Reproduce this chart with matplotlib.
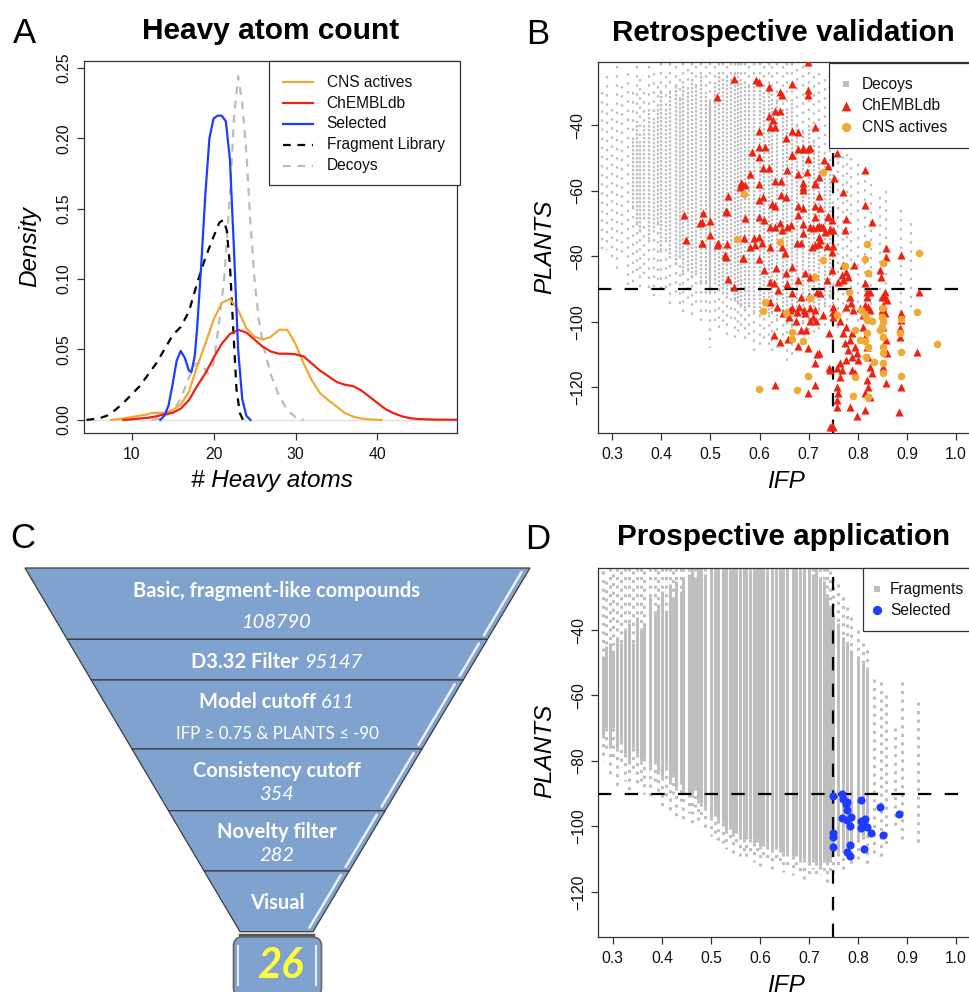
import numpy as np
import matplotlib
matplotlib.use('Agg')
import matplotlib.pyplot as plt
from matplotlib.patches import Polygon, Rectangle, FancyBboxPatch

# ------------------------------------------------------------------ data
# Panel A: density curves (x = # heavy atoms, y = density)
sel_x = [13.5, 14.0, 14.5, 15.0, 15.5, 16.0, 16.5, 17.0, 17.3, 17.7, 18.0, 18.5, 19.0, 19.5, 20.0, 20.5, 21.0, 21.5, 22.0, 22.5, 23.0, 23.5, 24.0, 24.5]
sel_y = [0.000, 0.003, 0.010, 0.025, 0.042, 0.049, 0.044, 0.035, 0.034, 0.045, 0.065, 0.110, 0.160, 0.200, 0.214, 0.216, 0.216, 0.212, 0.185, 0.120, 0.050, 0.015, 0.003, 0.000]

frag_x = [4.5, 6, 7, 8, 9, 10, 11, 12, 13, 14, 15, 16, 17, 18, 19, 20, 20.7, 21.2, 21.6, 22.0, 22.4, 22.8, 23.2, 23.6]
frag_y = [0.000, 0.001, 0.003, 0.007, 0.012, 0.018, 0.024, 0.032, 0.040, 0.050, 0.060, 0.066, 0.077, 0.097, 0.115, 0.130, 0.140, 0.142, 0.135, 0.110, 0.065, 0.022, 0.005, 0.000]

dec_x = [12.5, 14, 15, 16, 17, 17.8, 18.5, 19.3, 20, 20.7, 21.3, 22, 22.5, 23.0, 23.5, 24, 24.5, 25, 25.5, 26, 26.5, 27, 28, 29, 30, 31]
dec_y = [0.000, 0.002, 0.006, 0.015, 0.030, 0.040, 0.040, 0.033, 0.040, 0.070, 0.100, 0.160, 0.215, 0.244, 0.225, 0.190, 0.140, 0.100, 0.072, 0.055, 0.043, 0.032, 0.017, 0.007, 0.002, 0.000]

cns_x = [7.5, 9, 10, 11, 12, 12.5, 13, 14, 15, 16, 17, 18, 19, 20, 21, 22, 23, 24, 25, 26, 27, 28, 29, 30, 31, 32, 33, 34, 35, 36, 37, 38, 39, 40.5]
cns_y = [0.000, 0.001, 0.002, 0.003, 0.004, 0.005, 0.005, 0.005, 0.007, 0.011, 0.020, 0.038, 0.054, 0.071, 0.083, 0.086, 0.078, 0.065, 0.059, 0.057, 0.059, 0.064, 0.064, 0.054, 0.040, 0.028, 0.019, 0.014, 0.0095, 0.005, 0.0024, 0.001, 0.0004, 0.000]

chembl_x = [9, 10, 11, 12, 13, 14, 15, 16, 17, 18, 19, 20, 21, 22, 23, 24, 25, 26, 27, 28, 29, 30, 31, 32, 33, 34, 35, 36, 37, 38, 39, 40, 41, 42, 43, 44, 45, 47, 49.7]
chembl_y = [0.000, 0.0004, 0.001, 0.0015, 0.0025, 0.004, 0.005, 0.008, 0.014, 0.024, 0.033, 0.044, 0.054, 0.061, 0.064, 0.062, 0.057, 0.052, 0.0485, 0.047, 0.047, 0.0466, 0.045, 0.040, 0.035, 0.031, 0.027, 0.025, 0.024, 0.021, 0.0166, 0.012, 0.0076, 0.0047, 0.0025, 0.0012, 0.0006, 0.0002, 0.0001]

density_series = ["CNS actives", "ChEMBLdb", "Selected", "Fragment Library", "Decoys"]

# Panel B: decoy columns (IFP value, sparse top, dense top, dense bottom, sparse bottom)
b_col_ifp = [0.280, 0.290, 0.300, 0.310, 0.320, 0.333, 0.343, 0.350, 0.357, 0.364, 0.375, 0.385, 0.393, 0.400, 0.409, 0.417, 0.429, 0.438, 0.444, 0.455, 0.462, 0.471, 0.480, 0.490, 0.500, 0.509, 0.517, 0.526, 0.533, 0.542, 0.550, 0.556, 0.563, 0.571, 0.579, 0.588, 0.600, 0.609, 0.619, 0.625, 0.636, 0.647, 0.656, 0.667, 0.676, 0.688, 0.700, 0.711, 0.722, 0.733, 0.743, 0.750, 0.760, 0.769, 0.778, 0.786, 0.800, 0.815, 0.826, 0.846, 0.857, 0.889, 0.909]
b_col_top = [-30, -25, -35, -22, -28, -24, -30, -22, -26, -30, -22, -24, -28, -21, -25, -21, -22, -26, -21, -23, -21, -22, -21, -22, -21, -22, -21, -21, -22, -21, -21, -21, -21, -21, -22, -21, -21, -22, -21, -22, -21, -22, -21, -21, -23, -22, -21, -25, -24, -26, -28, -30, -40, -44, -46, -50, -52, -54, -58, -62, -60, -66, -70]
b_col_dtop = [np.nan, np.nan, np.nan, np.nan, np.nan, np.nan, -45, -40, -45, -40, -35, -38, -35, -30, -35, -30, -28, -32, -28, -30, -26, -28, -25, -30, -33, -27, -25, -26, -25, -26, -24, -25, -26, -27, -28, -28, -28, -30, -30, -32, -33, -35, -36, -32, -40, -42, -40, -45, -48, -50, -55, np.nan, np.nan, np.nan, np.nan, np.nan, np.nan, np.nan, np.nan, np.nan, np.nan, np.nan, np.nan]
b_col_dbot = [np.nan, np.nan, np.nan, np.nan, np.nan, np.nan, -65, -70, -72, -68, -75, -72, -70, -78, -75, -80, -82, -80, -85, -84, -86, -85, -88, -88, -91, -88, -90, -91, -92, -90, -93, -94, -95, -96, -95, -97, -98, -96, -98, -97, -99, -98, -100, -101, -98, -100, -99, -97, -96, -95, -92, np.nan, np.nan, np.nan, np.nan, np.nan, np.nan, np.nan, np.nan, np.nan, np.nan, np.nan, np.nan]
b_col_bot = [-80, -78, -82, -85, -80, -90, -88, -85, -90, -86, -90, -92, -88, -92, -90, -95, -92, -95, -97, -95, -98, -96, -100, -98, -108, -100, -102, -100, -104, -100, -106, -104, -103, -106, -104, -110, -108, -106, -107, -110, -108, -106, -112, -110, -106, -108, -105, -104, -103, -102, -100, -100, -102, -98, -100, -96, -104, -100, -98, -102, -100, -98, -96]
b_solid_ifp = 0.500  # the most populated decoy column (drawn solid)

# Panel B: ChEMBLdb actives (IFP, PLANTS)
chembl_ifp = [0.698, 0.547, 0.593, 0.599, 0.620, 0.666, 0.641, 0.645, 0.699, 0.699, 0.513, 0.632, 0.642, 0.620, 0.627, 0.621, 0.631, 0.599, 0.666, 0.678, 0.713, 0.654, 0.599, 0.611, 0.585, 0.599, 0.679, 0.689, 0.698, 0.699, 0.666, 0.732, 0.739, 0.751, 0.606, 0.620, 0.655, 0.580, 0.678, 0.696, 0.564, 0.561, 0.599, 0.632, 0.644, 0.689, 0.689, 0.689, 0.713, 0.720, 0.535, 0.599, 0.606, 0.625, 0.632, 0.644, 0.654, 0.678, 0.689, 0.713, 0.723, 0.740, 0.447, 0.485, 0.500, 0.479, 0.532, 0.570, 0.599, 0.608, 0.622, 0.632, 0.641, 0.645, 0.656, 0.663, 0.678, 0.689, 0.703, 0.713, 0.722, 0.730, 0.743, 0.451, 0.483, 0.515, 0.533, 0.568, 0.588, 0.599,
              0.530, 0.566, 0.581, 0.591, 0.605, 0.621, 0.645, 0.652, 0.676, 0.684, 0.713, 0.720, 0.737, 0.748, 0.535, 0.599, 0.608, 0.633, 0.621, 0.629, 0.654, 0.666, 0.678, 0.693, 0.703, 0.717, 0.724, 0.737, 0.747, 0.622, 0.635, 0.666, 0.680, 0.691, 0.703, 0.713, 0.659, 0.674, 0.703, 0.715, 0.684, 0.695, 0.730, 0.742, 0.629, 0.642, 0.678, 0.699, 0.717, 0.713, 0.742, 0.632, 0.699, 0.713, 0.748,
              0.665, 0.689, 0.703, 0.722, 0.713, 0.758, 0.815, 0.769, 0.815, 0.828, 0.777, 0.774, 0.740, 0.747, 0.726, 0.716, 0.709, 0.743, 0.750, 0.733, 0.720, 0.723, 0.706, 0.689, 0.749, 0.857, 0.857, 0.887, 0.770, 0.777, 0.767, 0.781, 0.770, 0.760, 0.792, 0.845, 0.847, 0.815, 0.819, 0.819, 0.825, 0.855, 0.855, 0.849, 0.859, 0.852, 0.849, 0.855, 0.925, 0.784, 0.786, 0.777, 0.791, 0.804, 0.815, 0.821, 0.825, 0.811, 0.818, 0.750, 0.750, 0.750, 0.709, 0.692, 0.676, 0.662, 0.648, 0.887, 0.887, 0.886, 0.764, 0.777, 0.770, 0.788, 0.784, 0.774, 0.794, 0.781, 0.798, 0.788, 0.777, 0.801, 0.764, 0.757, 0.767, 0.788, 0.794, 0.811, 0.815, 0.818, 0.821, 0.825, 0.828, 0.818, 0.821, 0.815, 0.825, 0.852, 0.857, 0.859, 0.852, 0.857, 0.886, 0.889, 0.884, 0.921, 0.743, 0.764, 0.757, 0.760, 0.758, 0.758, 0.743, 0.750, 0.784, 0.799, 0.815, 0.720, 0.658,
              0.482, 0.499, 0.482, 0.514, 0.533, 0.531, 0.548, 0.567, 0.563, 0.570, 0.638, 0.665, 0.685, 0.655, 0.700]
chembl_plants = [-20.7, -26.0, -26.3, -26.8, -28.5, -27.6, -29.9, -30.9, -29.3, -30.9, -31.6, -35.6, -35.6, -37.3, -38.5, -40.5, -40.5, -41.7, -41.8, -42.0, -40.5, -43.9, -46.8, -46.7, -48.3, -49.7, -47.4, -47.4, -47.4, -50.3, -49.1, -50.7, -52.5, -56.3, -53.0, -53.2, -53.6, -55.0, -55.0, -54.3, -58.0, -58.8, -58.0, -57.0, -57.0, -57.6, -58.8, -59.8, -58.0, -61.6, -61.5, -62.9, -61.9, -64.1, -64.8, -61.2, -62.0, -64.8, -65.4, -64.8, -65.3, -67.6, -67.3, -66.7, -69.2, -69.8, -66.2, -68.4, -68.0, -69.0, -71.0, -71.0, -70.0, -72.0, -71.0, -70.5, -67.4, -70.2, -71.0, -68.0, -70.7, -71.0, -71.7, -75.0, -75.9, -76.0, -76.2, -74.6, -74.6, -74.0,
                 -79.6, -80.6, -77.1, -76.6, -76.0, -77.3, -77.1, -79.1, -76.0, -76.0, -76.6, -76.3, -76.8, -78.6, -87.0, -81.0, -84.2, -83.7, -87.8, -88.3, -85.2, -83.2, -87.3, -85.2, -86.2, -90.8, -91.3, -87.3, -84.2, -93.9, -95.4, -95.9, -95.4, -96.4, -95.9, -96.4, -98.4, -99.9, -99.9, -99.9, -102.5, -102.5, -97.9, -103.3, -104.0, -106.3, -107.4, -107.9, -109.9, -112.7, -114.2, -119.3, -121.6, -119.3, -131.7,
                 -49.1, -47.1, -47.1, -55.8, -57.8, -48.6, -53.7, -60.3, -64.4, -69.5, -68.7, -72.0, -68.0, -69.0, -71.0, -71.0, -71.5, -72.0, -72.0, -72.5, -74.0, -75.0, -77.1, -73.0, -76.9, -77.6, -80.2, -79.6, -82.7, -84.7, -85.7, -86.2, -87.3, -87.8, -82.7, -84.2, -86.2, -88.3, -90.8, -92.4, -90.8, -90.8, -92.4, -92.4, -93.4, -94.9, -96.4, -97.4, -90.8, -92.4, -94.4, -95.4, -96.4, -95.9, -94.9, -95.4, -96.4, -97.9, -98.4, -95.4, -96.9, -98.4, -98.4, -97.4, -96.9, -96.4, -97.4, -97.4, -99.5, -102.0, -99.9, -101.5, -103.5, -103.5, -105.5, -106.6, -107.6, -108.6, -109.6, -110.6, -111.6, -111.6, -112.7, -114.2, -114.7, -114.7, -115.7, -101.5, -104.5, -107.6, -110.6, -113.7, -115.7, -117.7, -119.8, -121.8, -122.8, -101.5, -105.5, -109.6, -113.7, -118.8, -104.5, -119.8, -127.4, -109.1, -114.7, -116.7, -119.8, -121.8, -123.8, -125.9, -132.2, -132.2, -125.9, -128.7, -126.9, -109.6, -105.3,
                 -69.6, -73.5, -75.9, -76.6, -66.4, -80.1, -89.3, -80.4, -57.6, -58.3, -90.3, -91.3, -92.3, -88.5, -92.0]

# Panel B: CNS actives (IFP, PLANTS)
cns_ifp = [0.569, 0.553, 0.641, 0.730, 0.730, 0.713, 0.703, 0.611, 0.606, 0.654, 0.665, 0.665, 0.689, 0.699, 0.599, 0.677, 0.773, 0.783, 0.757, 0.794, 0.806, 0.815, 0.818, 0.794, 0.791, 0.815, 0.819, 0.820, 0.828, 0.818, 0.820, 0.816, 0.815, 0.820, 0.851, 0.849, 0.849, 0.851, 0.849, 0.845, 0.851, 0.852, 0.851, 0.852, 0.851, 0.887, 0.885, 0.887, 0.887, 0.925, 0.921, 0.961, 0.804, 0.832]
cns_plants = [-61.1, -74.9, -75.8, -54.4, -81.2, -86.2, -92.6, -93.9, -96.7, -97.4, -103.2, -105.2, -105.9, -116.5, -120.6, -120.8, -82.9, -91.0, -97.9, -102.5, -96.4, -97.9, -99.5, -116.7, -122.6, -80.7, -76.3, -85.0, -99.8, -103.5, -107.6, -110.6, -105.9, -122.8, -82.2, -95.9, -98.4, -100.0, -102.0, -102.5, -104.5, -107.6, -109.6, -112.7, -115.7, -99.0, -103.5, -109.1, -116.5, -79.1, -97.1, -106.9, -105.5, -112.2]

# Panel D: fragment library columns (IFP value, sparse top, dense top, dense bottom, sparse bottom)
d_col_ifp = [0.280, 0.287, 0.294, 0.300, 0.308, 0.316, 0.325, 0.333, 0.342, 0.350, 0.357, 0.364, 0.375, 0.385, 0.393, 0.400, 0.409, 0.417, 0.423, 0.429, 0.438, 0.444, 0.455, 0.462, 0.467, 0.474, 0.480, 0.488, 0.500, 0.508, 0.515, 0.524, 0.531, 0.538, 0.545, 0.552, 0.560, 0.567, 0.571, 0.579, 0.588, 0.595, 0.600, 0.607, 0.615, 0.625, 0.632, 0.640, 0.647, 0.655, 0.667, 0.674, 0.682, 0.690, 0.700, 0.708, 0.714, 0.722, 0.730, 0.737, 0.743, 0.750, 0.760, 0.769, 0.778, 0.786, 0.800, 0.810, 0.818, 0.833, 0.846, 0.857, 0.875, 0.889, 0.923]
d_col_top = [-22, -25, -21, -23, -21, -22, -21, -21, -22, -21, -21, -22, -21, -21, -22, -21, -21, -21, -22, -21, -21, -21, -21, -21, -21, -21, -21, -21, -21, -21, -21, -21, -21, -21, -21, -21, -21, -21, -21, -21, -21, -21, -21, -21, -21, -21, -21, -21, -21, -21, -21, -21, -21, -21, -21, -21, -21, -21, -21, -21, -22, -24, -26, -30, -33, -36, -40, -44, -46, -55, -56, -60, -70, -56, -62]
d_col_dtop = [-48, -45, -44, -46, -42, -44, -40, -38, -44, -36, -40, -38, -30, -35, -32, -28, -34, -26, -30, -25, -28, -24, -23, -22, -24, -22, -22, -23, -21, -22, -21, -22, -21, -22, -21, -22, -21, -21, -21, -22, -21, -21, -21, -21, -22, -21, -21, -21, -22, -21, -21, -21, -22, -21, -21, -23, -21, -24, -25, -30, -33, -35, -38, -42, -44, -46, -48, -50, -52, np.nan, np.nan, np.nan, np.nan, np.nan, np.nan]
d_col_dbot = [-72, -70, -75, -70, -76, -74, -78, -80, -76, -78, -80, -79, -82, -80, -83, -85, -82, -86, -84, -88, -86, -89, -90, -90, -88, -92, -93, -94, -97, -96, -98, -99, -101, -100, -102, -101, -103, -104, -103, -104, -105, -104, -106, -105, -106, -107, -106, -107, -108, -108, -109, -108, -110, -110, -111, -110, -111, -112, -110, -111, -110, -108, -108, -107, -106, -105, -104, -103, -100, np.nan, np.nan, np.nan, np.nan, np.nan, np.nan]
d_col_bot = [-80, -78, -85, -80, -88, -82, -86, -90, -84, -88, -86, -90, -92, -88, -90, -95, -92, -96, -90, -97, -94, -98, -96, -99, -95, -100, -98, -101, -103, -104, -105, -106, -107, -105, -108, -106, -109, -108, -110, -109, -111, -108, -112, -110, -111, -113, -110, -112, -114, -113, -115, -112, -114, -116, -115, -113, -116, -115, -114, -117, -114, -115, -112, -114, -110, -112, -110, -108, -112, -108, -110, -106, -100, -104, -105]

# Panel D: selected compounds (IFP, PLANTS)
selected_ifp = [0.749, 0.767, 0.770, 0.777, 0.776, 0.807, 0.777, 0.844, 0.884, 0.767, 0.777, 0.786, 0.784, 0.807, 0.815, 0.811, 0.819, 0.807, 0.827, 0.851, 0.749, 0.749, 0.749, 0.784, 0.777, 0.784, 0.813]
selected_plants = [-90.7, -90.2, -91.6, -92.6, -93.1, -91.8, -95.0, -94.0, -96.3, -97.4, -98.1, -97.1, -99.9, -98.4, -97.6, -99.4, -100.1, -100.6, -102.0, -102.5, -102.0, -103.2, -106.3, -105.7, -107.8, -109.0, -106.8]

ifp_cutoff = 0.75
plants_cutoff = -90

# Panel C: funnel
funnel_stages = ["Basic, fragment-like compounds", "D3.32 Filter", "Model cutoff", "Consistency cutoff", "Novelty filter", "Visual"]
funnel_counts = ["108790", "95147", "611", "354", "282", ""]
funnel_note = "IFP \u2265 0.75 & PLANTS \u2264 -90"
funnel_final = "26"

# ------------------------------------------------------------------ style
W, H = 969, 992
plt.rcParams['font.family'] = ['Liberation Sans', 'DejaVu Sans']
fig = plt.figure(figsize=(W / 100, H / 100), dpi=100)

C_ORANGE = '#F2A933'
C_RED = '#EE2211'
C_BLUE = '#1E3CFF'
C_GRAY = '#BEBEBE'
C_FRAME = '#333333'

# overlay axis in pixel coordinates (for panel C, titles and labels)
ov = fig.add_axes([0, 0, 1, 1])
ov.set_xlim(0, W)
ov.set_ylim(H, 0)
ov.axis('off')


def add_ax(l, t, r, b):
    ax = fig.add_axes([l / W, 1 - b / H, (r - l) / W, (b - t) / H])
    ax.rect_px = (l, t, r, b)
    return ax


def rstyle(ax):
    for s in ax.spines.values():
        s.set_color(C_FRAME)
        s.set_linewidth(0.9)
    ax.tick_params(direction='out', length=5, width=0.9, color=C_FRAME, labelsize=11.3, labelcolor='#111111')
    ax.tick_params(axis='x', pad=5)
    ax.tick_params(axis='y', pad=4)


def px2ax(ax, x, y):
    l, t, r, b = ax.rect_px
    return (x - l) / (r - l), (b - y) / (b - t)


def legend_box(ax, x0, y0, x1, y1):
    ax0, ay0 = px2ax(ax, x0, y1)
    ax1, ay1 = px2ax(ax, x1, y0)
    ax.add_patch(Rectangle((ax0, ay0), ax1 - ax0, ay1 - ay0, transform=ax.transAxes,
                           facecolor='white', edgecolor=C_FRAME, lw=0.9, zorder=20, clip_on=False))


def legend_text(ax, x, y, s):
    tx, ty = px2ax(ax, x, y)
    ax.text(tx, ty, s, transform=ax.transAxes, fontsize=11.2, va='center', ha='left', zorder=22, color='#111111')


# ------------------------------------------------------------------ Panel A
axA = add_ax(84, 61, 457, 433)
rstyle(axA)
axA.axhline(0, color='#E0E0E0', lw=1.0, zorder=1)
curves = [
    (cns_x, cns_y, C_ORANGE, '-'),
    (chembl_x, chembl_y, C_RED, '-'),
    (sel_x, sel_y, C_BLUE, '-'),
    (frag_x, frag_y, 'black', (0, (3.5, 3))),
    (dec_x, dec_y, '#BBBBBB', (0, (3.5, 3))),
]
for (xx, yy, c, ls) in [curves[4], curves[3], curves[0], curves[1], curves[2]]:
    axA.plot(xx, yy, color=c, ls=ls, lw=1.6, zorder=3, solid_joinstyle='round')
axA.set_xlim(4.2, 49.7)
axA.set_ylim(-0.0093, 0.2548)
axA.set_xticks([10, 20, 30, 40])
axA.set_yticks([0.0, 0.05, 0.10, 0.15, 0.20, 0.25])
axA.set_yticklabels(['%.2f' % v for v in [0.0, 0.05, 0.10, 0.15, 0.20, 0.25]], rotation=90, va='center')

legend_box(axA, 269.3, 61, 460, 185)
rows = [82.3, 103.3, 124.0, 145.0, 165.7]
for (xx, yy, c, ls), name, ry in zip(curves, density_series, rows):
    a0, ty = px2ax(axA, 283, ry)
    a1, _ = px2ax(axA, 313, ry)
    axA.plot([a0, a1], [ty, ty], transform=axA.transAxes, color=c, ls=ls, lw=1.6, zorder=21, clip_on=False)
    legend_text(axA, 326.7, ry, name)

ov.text(25, 43.3, 'A', fontsize=25, ha='center', va='baseline')
ov.text(270.8, 39.3, 'Heavy atom count', fontsize=21.5, fontweight='bold', ha='center', va='baseline')
ov.text(271.7, 487.3, '# Heavy atoms', fontsize=17.5, fontstyle='italic', ha='center', va='baseline')
ov.text(30, 247, 'Density', fontsize=17.5, fontstyle='italic', ha='center', va='center', rotation=90)


# ------------------------------------------------------------------ scatter helper
def draw_columns(ax, xs, tops, dtops, dbots, bots, dense_ls, sparse_ls, lw, solid_x=None):
    for x, t, dt, db, b in zip(xs, tops, dtops, dbots, bots):
        if np.isnan(dt):
            ax.plot([x, x], [t, b], color=C_GRAY, lw=lw, ls=sparse_ls, zorder=1)
        else:
            dls = '-' if (solid_x is not None and abs(x - solid_x) < 1e-6) else dense_ls
            ax.plot([x, x], [t, dt], color=C_GRAY, lw=lw, ls=sparse_ls, zorder=1)
            ax.plot([x, x], [dt, db], color=C_GRAY, lw=lw, ls=dls, zorder=1, solid_capstyle='butt')
            ax.plot([x, x], [db, b], color=C_GRAY, lw=lw, ls=sparse_ls, zorder=1)


def scatter_axes(ax):
    rstyle(ax)
    ax.set_xlim(0.2703, 1.0326)
    ax.set_xticks([0.3, 0.4, 0.5, 0.6, 0.7, 0.8, 0.9, 1.0])
    ax.set_xticklabels(['%.1f' % v for v in [0.3, 0.4, 0.5, 0.6, 0.7, 0.8, 0.9, 1.0]])
    ax.set_yticks([-40, -60, -80, -100, -120])
    ax.set_yticklabels(['\u2212%d' % abs(v) for v in [-40, -60, -80, -100, -120]], rotation=90, va='center')
    ax.axhline(plants_cutoff, color='black', lw=1.6, ls=(0, (6, 6)), zorder=4)
    ax.axvline(ifp_cutoff, color='black', lw=1.6, ls=(0, (6, 6)), zorder=4)


# ------------------------------------------------------------------ Panel B
axB = add_ax(597.7, 61.7, 972, 433)
scatter_axes(axB)
axB.set_ylim(-133.9, -20.7)
draw_columns(axB, b_col_ifp, b_col_top, b_col_dtop, b_col_dbot, b_col_bot,
             (0, (1.1, 0.7)), (0, (1.1, 3.0)), 1.6, solid_x=b_solid_ifp)
axB.scatter(chembl_ifp, chembl_plants, marker='^', s=34, color=C_RED, linewidths=0, zorder=5)
axB.scatter(cns_ifp, cns_plants, marker='o', s=30, color=C_ORANGE, linewidths=0, zorder=6)

legend_box(axB, 829.3, 62.7, 975, 147.7)
b_leg = [('s', C_GRAY, 14, 'Decoys'), ('^', C_RED, 48, 'ChEMBLdb'), ('o', C_ORANGE, 44, 'CNS actives')]
for (m, c, s, name), ry in zip(b_leg, [84.3, 105.7, 127.0]):
    mx, my = px2ax(axB, 845.7, ry)
    axB.scatter([mx], [my], marker=m, s=s, color=c, linewidths=0, transform=axB.transAxes, zorder=22, clip_on=False)
    legend_text(axB, 861.7, ry, name)

ov.text(537.5, 44.3, 'B', fontsize=25, ha='center', va='baseline')
ov.text(783.3, 40.7, 'Retrospective validation', fontsize=21.3, fontweight='bold', ha='center', va='baseline')
ov.text(785.8, 488.3, 'IFP', fontsize=17.5, fontstyle='italic', ha='center', va='baseline')
ov.text(544.5, 246.7, 'PLANTS', fontsize=17.5, fontstyle='italic', ha='center', va='center', rotation=90)

# ------------------------------------------------------------------ Panel D
axD = add_ax(598.3, 567.7, 972, 937.3)
scatter_axes(axD)
axD.set_ylim(-133.9, -20.95)
draw_columns(axD, d_col_ifp, d_col_top, d_col_dtop, d_col_dbot, d_col_bot,
             '-', (0, (1.0, 1.8)), 2.2)
axD.scatter(selected_ifp, selected_plants, marker='o', s=34, color=C_BLUE, linewidths=0, zorder=6)

legend_box(axD, 862.7, 567.7, 975, 631)
d_leg = [('s', C_GRAY, 14, 'Fragments'), ('o', C_BLUE, 44, 'Selected')]
for (m, c, s, name), ry in zip(d_leg, [589.3, 610.3]):
    mx, my = px2ax(axD, 876.7, ry)
    axD.scatter([mx], [my], marker=m, s=s, color=c, linewidths=0, transform=axD.transAxes, zorder=22, clip_on=False)
    legend_text(axD, 890, ry, name)

ov.text(537.5, 549.3, 'D', fontsize=25, ha='center', va='baseline')
ov.text(783.3, 545, 'Prospective application', fontsize=21.3, fontweight='bold', ha='center', va='baseline')
ov.text(785.8, 992, 'IFP', fontsize=17.5, fontstyle='italic', ha='center', va='baseline')
ov.text(544.5, 750.8, 'PLANTS', fontsize=17.5, fontstyle='italic', ha='center', va='center', rotation=90)

# ------------------------------------------------------------------ Panel C (funnel)
ov.text(23, 547.7, 'C', fontsize=25, ha='center', va='baseline')
FILL = '#7FA2CF'
EDGE = '#3C3C3C'
bounds = [568, 639.3, 680, 749, 810.7, 871, 931.7]
x_left = lambda y: 25 + (y - 568) * (240 - 25) / (931.7 - 568)
x_right = lambda y: 530 - (y - 568) * (530 - 313) / (931.7 - 568)
for i in range(len(funnel_stages)):
    y0, y1 = bounds[i], bounds[i + 1]
    poly = Polygon([(x_left(y0), y0), (x_right(y0), y0), (x_right(y1), y1), (x_left(y1), y1)],
                   closed=True, facecolor=FILL, edgecolor=EDGE, lw=0.9, zorder=2)
    ov.add_patch(poly)
    # white bevel highlight along right edge
    ya, yb = y1 - 4, y0 + 4
    ov.plot([x_right(ya) - 6, x_right(yb) - 6], [ya, yb], color='white', lw=1.8, alpha=0.85,
            solid_capstyle='round', zorder=3)

FF = ['Lato', 'DejaVu Sans']
FS = 14.5
cx = 277
ov.text(cx, 596.7, funnel_stages[0], family=FF, fontsize=FS, fontweight='bold', color='white', ha='center', va='baseline', zorder=5)
ov.text(cx, 628.3, funnel_counts[0], family=FF, fontsize=FS, fontstyle='italic', color='white', ha='center', va='baseline', zorder=5)
ov.text(298.5, 668.3, funnel_stages[1], family=FF, fontsize=FS, fontweight='bold', color='white', ha='right', va='baseline', zorder=5)
ov.text(304, 668.3, funnel_counts[1], family=FF, fontsize=FS, fontstyle='italic', color='white', ha='left', va='baseline', zorder=5)
ov.text(316, 708.3, funnel_stages[2], family=FF, fontsize=FS, fontweight='bold', color='white', ha='right', va='baseline', zorder=5)
ov.text(321, 708.3, funnel_counts[2], family=FF, fontsize=FS, fontstyle='italic', color='white', ha='left', va='baseline', zorder=5)
ov.text(cx, 739.3, funnel_note, family=FF, fontsize=12.2, color='white', ha='center', va='baseline', zorder=5)
ov.text(cx, 776.7, funnel_stages[3], family=FF, fontsize=FS, fontweight='bold', color='white', ha='center', va='baseline', zorder=5)
ov.text(cx, 800.0, funnel_counts[3], family=FF, fontsize=FS, fontstyle='italic', color='white', ha='center', va='baseline', zorder=5)
ov.text(cx, 838.3, funnel_stages[4], family=FF, fontsize=FS, fontweight='bold', color='white', ha='center', va='baseline', zorder=5)
ov.text(cx, 860.7, funnel_counts[4], family=FF, fontsize=FS, fontstyle='italic', color='white', ha='center', va='baseline', zorder=5)
ov.text(cx, 909.3, funnel_stages[5], family=FF, fontsize=FS, fontweight='bold', color='white', ha='center', va='baseline', zorder=5)

# final box
ov.plot([240, 313], [934.5, 934.5], color='#555555', lw=2.5, zorder=2)
box = FancyBboxPatch((233.5, 937), 88, 60, boxstyle='round,pad=0,rounding_size=9',
                     facecolor=FILL, edgecolor='#666666', lw=1.2, zorder=3)
ov.add_patch(box)
ov.plot([238, 238], [946, 985], color='white', lw=1.5, alpha=0.8, zorder=4)
ov.plot([316, 316], [946, 985], color='white', lw=1.5, alpha=0.8, zorder=4)
ov.text(280, 978, funnel_final, family=FF, fontsize=30, fontweight='bold', fontstyle='italic',
        color='#FFFF3B', ha='center', va='baseline', zorder=5)

fig.savefig('out.png', dpi=100)
